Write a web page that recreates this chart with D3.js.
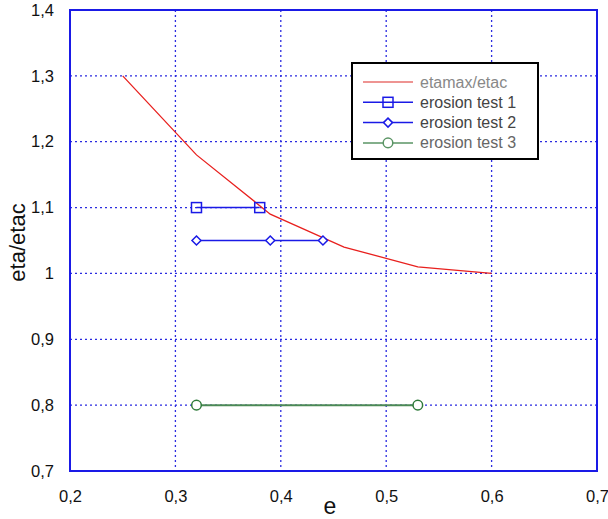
<!DOCTYPE html>
<html><head><meta charset="utf-8">
<script src="https://cdn.jsdelivr.net/npm/d3@7"></script>
<style>body{margin:0;background:#fff;}svg{display:block;font-family:Arial,"Liberation Sans",sans-serif;}</style>
</head><body><svg id="c" width="608" height="519"></svg>
<script>
const xTicks = [0.2, 0.3, 0.4, 0.5, 0.6, 0.7];
const yTicks = [0.7, 0.8, 0.9, 1.0, 1.1, 1.2, 1.3, 1.4];
const etamaxX = [0.25, 0.32, 0.39, 0.46, 0.53, 0.60];
const etamaxY = [1.30, 1.18, 1.09, 1.04, 1.01, 1.00];
const test1X = [0.32, 0.38];
const test1Y = [1.10, 1.10];
const test2X = [0.32, 0.39, 0.44];
const test2Y = [1.05, 1.05, 1.05];
const test3X = [0.32, 0.53];
const test3Y = [0.80, 0.80];
const legendLabels = ["etamax/etac", "erosion test 1", "erosion test 2", "erosion test 3"];

const svg = d3.select("#c");
const L = 70, R = 597, T = 10, B = 471;
const x = d3.scaleLinear().domain([0.2, 0.7]).range([L, R]);
const y = d3.scaleLinear().domain([0.7, 1.4]).range([B, T]);
const fmt = d => d3.format(".1f")(d).replace(".", ",").replace(/^1,0$/, "1");

// grid
const gridColor = "#2b2be0";
svg.append("g").selectAll("line").data(xTicks.slice(1, -1)).join("line")
  .attr("x1", d => x(d)).attr("x2", d => x(d)).attr("y1", T).attr("y2", B)
  .attr("stroke", gridColor).attr("stroke-width", 1.3).attr("stroke-dasharray", "2,3");
svg.append("g").selectAll("line").data(yTicks.slice(1, -1)).join("line")
  .attr("y1", d => y(d)).attr("y2", d => y(d)).attr("x1", L).attr("x2", R)
  .attr("stroke", gridColor).attr("stroke-width", 1.3).attr("stroke-dasharray", "2,3");
// frame
svg.append("rect").attr("x", L).attr("y", T).attr("width", R - L).attr("height", B - T)
  .attr("fill", "none").attr("stroke", "#1a1ae6").attr("stroke-width", 2);

const xAxis = svg.append("g").attr("transform", `translate(0,${B})`)
  .call(d3.axisBottom(x).tickValues(xTicks).tickFormat(fmt).tickSize(0).tickPadding(19));
const yAxis = svg.append("g").attr("transform", `translate(${L},0)`)
  .call(d3.axisLeft(y).tickValues(yTicks).tickFormat(fmt).tickSize(0).tickPadding(16));
[xAxis, yAxis].forEach(a => {
  a.select(".domain").remove();
  a.selectAll("text").attr("font-size", 16.5).attr("fill", "#111").attr("font-family", "Arial, 'Liberation Sans', sans-serif");
});

svg.append("text").attr("x", 330).attr("y", 514).attr("text-anchor", "middle")
  .attr("font-size", 23).attr("fill", "#111").text("e");
svg.append("text").attr("transform", `translate(25,${(T + B) / 2 + 2}) rotate(-90)`)
  .attr("text-anchor", "middle").attr("font-size", 22).attr("fill", "#111").text("eta/etac");

const line = d3.line().x(d => x(d[0])).y(d => y(d[1]));
const zip = (a, b) => a.map((v, i) => [v, b[i]]);

svg.append("path").datum(zip(etamaxX, etamaxY)).attr("d", line)
  .attr("fill", "none").attr("stroke", "#e8201e").attr("stroke-width", 1.3);

svg.append("path").datum(zip(test1X, test1Y)).attr("d", line)
  .attr("fill", "none").attr("stroke", "#1a1ae6").attr("stroke-width", 1.5);
svg.append("path").datum(zip(test2X, test2Y)).attr("d", line)
  .attr("fill", "none").attr("stroke", "#1a1ae6").attr("stroke-width", 1.5);
svg.append("path").datum(zip(test3X, test3Y)).attr("d", line)
  .attr("fill", "none").attr("stroke", "#4c8a55").attr("stroke-width", 2);

function marker(g, kind, cx, cy, color) {
  if (kind === "square") {
    g.append("rect").attr("x", cx - 5).attr("y", cy - 5).attr("width", 10).attr("height", 10)
      .attr("fill", "none").attr("stroke", color).attr("stroke-width", 1.5);
  } else if (kind === "diamond") {
    g.append("path").attr("d", `M${cx},${cy - 4.5}L${cx + 4.5},${cy}L${cx},${cy + 4.5}L${cx - 4.5},${cy}Z`)
      .attr("fill", "#fff").attr("stroke", color).attr("stroke-width", 1.5);
  } else {
    g.append("circle").attr("cx", cx).attr("cy", cy).attr("r", 4.8)
      .attr("fill", "#fff").attr("stroke", color).attr("stroke-width", 1.5);
  }
}
const mg = svg.append("g");
zip(test1X, test1Y).forEach(d => marker(mg, "square", x(d[0]), y(d[1]), "#1a1ae6"));
zip(test2X, test2Y).forEach(d => marker(mg, "diamond", x(d[0]), y(d[1]), "#1a1ae6"));
zip(test3X, test3Y).forEach(d => marker(mg, "circle", x(d[0]), y(d[1]), "#2e7a3a"));

// legend
const lg = svg.append("g");
lg.append("rect").attr("x", 352).attr("y", 63).attr("width", 186).attr("height", 96)
  .attr("fill", "#fff").attr("stroke", "#000").attr("stroke-width", 2);
const legColors = ["#e8706e", "#1a1ae6", "#1a1ae6", "#5a9464"];
const legKinds = [null, "square", "diamond", "circle"];
const legText = ["#888", "#444", "#444", "#666"];
legendLabels.forEach((lab, i) => {
  const yy = 82 + i * 20.3;
  lg.append("line").attr("x1", 363).attr("x2", 413).attr("y1", yy).attr("y2", yy)
    .attr("stroke", legColors[i]).attr("stroke-width", 1.5);
  if (legKinds[i]) marker(lg, legKinds[i], 388, yy, legColors[i]);
  lg.append("text").attr("x", 420).attr("y", yy + 5.5).attr("font-size", 16)
    .attr("fill", legText[i]).text(lab);
});
</script></body></html>
